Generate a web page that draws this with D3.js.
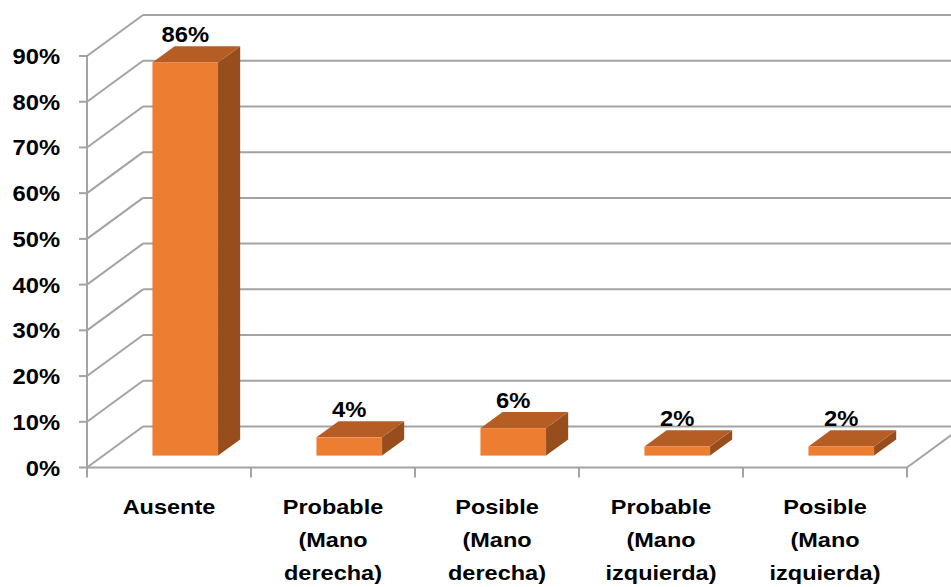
<!DOCTYPE html>
<html>
<head>
<meta charset="utf-8">
<script src="https://cdn.jsdelivr.net/npm/d3@7"></script>
<style>
  html, body { margin: 0; padding: 0; background: #ffffff; }
  svg { display: block; }
  text { font-family: "Liberation Sans", Arial, sans-serif; font-weight: bold; fill: #000; }
</style>
</head>
<body>
<svg id="chart" width="951" height="587"></svg>
<script>
// Categories (multi-line labels) and their shares
const categories = ["Ausente", "Probable (Mano derecha)", "Posible (Mano derecha)", "Probable (Mano izquierda)", "Posible (Mano izquierda)"];
const categoryLines = [["Ausente"], ["Probable", "(Mano", "derecha)"], ["Posible", "(Mano", "derecha)"], ["Probable", "(Mano", "izquierda)"], ["Posible", "(Mano", "izquierda)"]];
const values = [0.86, 0.04, 0.06, 0.02, 0.02];
const tickValues = [0, 0.1, 0.2, 0.3, 0.4, 0.5, 0.6, 0.7, 0.8, 0.9];

const W = 951, H = 587;
const svg = d3.select("#chart");

// Front plane of the plot box and the oblique depth vector
const x0 = 87, x1 = 907;
const DX = 56, DY = -41;           // full depth offset of the back wall
const F0 = 0.29, F1 = 0.685;       // depth span occupied by the bars

const x = d3.scaleBand().domain(categories).range([x0, x1]).padding(0);
const y = d3.scaleLinear().domain([0, 0.9]).range([467.5, 56]);
const pct = d3.format(".0%");

const gridColor = "#a3a3a3";
const grid = svg.append("g").attr("fill", "none").attr("stroke", gridColor).attr("stroke-width", 2);

// Back wall gridlines (extend to the right edge)
grid.selectAll("line.back").data(tickValues).join("line")
  .attr("class", "back")
  .attr("x1", x0 + DX).attr("x2", W + 2)
  .attr("y1", d => y(d) + DY).attr("y2", d => y(d) + DY);

// Left wall oblique gridlines
grid.selectAll("line.side").data(tickValues).join("line")
  .attr("class", "side")
  .attr("x1", x0).attr("y1", d => y(d))
  .attr("x2", x0 + DX).attr("y2", d => y(d) + DY);

// Front vertical axis line and tick marks
grid.append("line").attr("x1", x0).attr("x2", x0).attr("y1", y(0.9)).attr("y2", y(0));
grid.selectAll("line.ytick").data(tickValues).join("line")
  .attr("class", "ytick")
  .attr("x1", x0 - 8).attr("x2", x0)
  .attr("y1", d => y(d)).attr("y2", d => y(d));

// Floor: front edge and right oblique edge
grid.append("line").attr("x1", x0).attr("x2", x1).attr("y1", y(0)).attr("y2", y(0));
grid.append("line").attr("x1", x1).attr("y1", y(0)).attr("x2", x1 + DX).attr("y2", y(0) + DY);

// Category tick marks
const catEdges = categories.map(c => x(c)).concat([x1]);
grid.selectAll("line.xtick").data(catEdges).join("line")
  .attr("class", "xtick")
  .attr("x1", d => d).attr("x2", d => d)
  .attr("y1", y(0)).attr("y2", y(0) + 10);

// Y axis labels
svg.append("g").selectAll("text").data(tickValues).join("text")
  .attr("transform", d => `translate(60,${y(d) + 8}) scale(1.08,1)`)
  .attr("text-anchor", "end")
  .attr("font-size", 22)
  .text(d => pct(d));

// 3D bars
const barW = x.bandwidth() * 0.4;
const bdx = DX * (F1 - F0), bdy = DY * (F1 - F0);
const bars = svg.append("g").selectAll("g").data(values).join("g");

function geom(v, i) {
  const left = x(categories[i]) + (x.bandwidth() - barW) / 2 + DX * F0;
  const top = y(v) + DY * F0;
  const bottom = y(0) + DY * F0;
  return { left, right: left + barW, top, bottom };
}

// right side face
bars.append("polygon")
  .attr("fill", "#984d1d")
  .attr("points", (v, i) => {
    const g = geom(v, i);
    return [[g.right, g.top], [g.right + bdx, g.top + bdy], [g.right + bdx, g.bottom + bdy], [g.right, g.bottom]].join(" ");
  });
// top face
bars.append("polygon")
  .attr("fill", "#b55d24")
  .attr("points", (v, i) => {
    const g = geom(v, i);
    return [[g.left, g.top], [g.left + bdx, g.top + bdy], [g.right + bdx, g.top + bdy], [g.right, g.top]].join(" ");
  });
// front face
bars.append("rect")
  .attr("fill", "#ed7d31")
  .attr("x", (v, i) => geom(v, i).left)
  .attr("y", (v, i) => geom(v, i).top)
  .attr("width", barW)
  .attr("height", (v, i) => geom(v, i).bottom - geom(v, i).top);

// Value labels
bars.append("text")
  .attr("transform", (v, i) => {
    const g = geom(v, i);
    return `translate(${(g.left + g.right) / 2},${g.top - 20.5}) scale(1.08,1)`;
  })
  .attr("text-anchor", "middle")
  .attr("font-size", 22)
  .text(v => pct(v));

// Category labels
const cat = svg.append("g").selectAll("g").data(categories).join("g");
cat.each(function (c, i) {
  const cx = x(c) + x.bandwidth() / 2;
  d3.select(this).selectAll("text").data(categoryLines[i]).join("text")
    .attr("transform", (t, j) => `translate(${cx},${513.5 + j * 33.3}) scale(1.12,1)`)
    .attr("text-anchor", "middle")
    .attr("font-size", 21)
    .text(t => t);
});
</script>
</body>
</html>
